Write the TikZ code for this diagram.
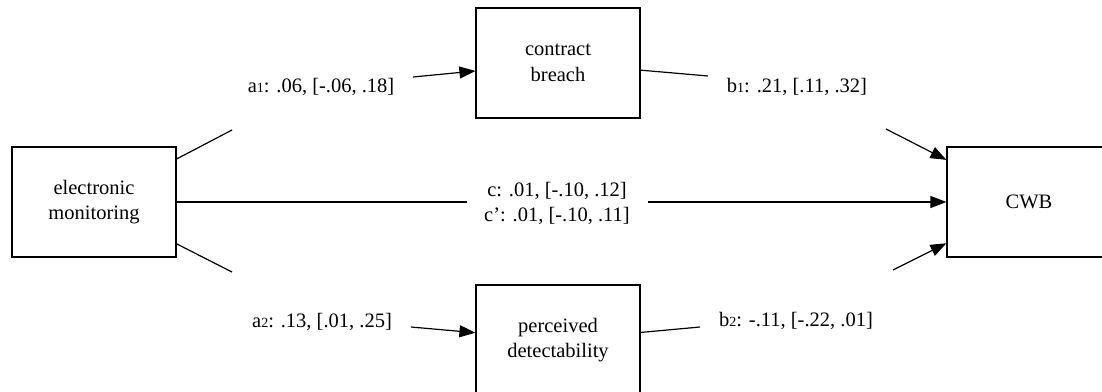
\documentclass[tikz,border=0pt]{standalone}
\usepackage{fontspec}
\setmainfont{Liberation Serif}
\usetikzlibrary{arrows.meta, positioning}
\tikzstyle{box} = [rectangle, minimum width=164pt, minimum height=110pt, align=center, draw=black, line width=1.2pt, font=\fontsize{20.5}{25.5}\selectfont]
\tikzstyle{lbl} = [inner sep=0pt, align=center, font=\fontsize{20.5}{25.5}\selectfont]
\tikzstyle{line} = [line width=1.2pt]
\tikzstyle{arrow} = [line width=1.2pt,-{Triangle[length=16pt,width=12pt]}]
\newcommand{\pathno}[1]{{\fontsize{14}{14}\selectfont #1}}

\begin{document}
\begin{tikzpicture}[x=1pt, y=-1pt]
\useasboundingbox (0,0) rectangle (1102,391);

\node (monitoring) [box] at (94,202) {electronic\\monitoring};
\node (breach) [box] at (558,63) {contract\\breach};
\node (detect) [box] at (558,340) {perceived\\detectability};
\node (cwb) [box] at (1029,202) {CWB};

\node (a1lbl) [lbl, anchor=base] at (321,92) {a\pathno{1}: .06, [-.06, .18]};
\node (b1lbl) [lbl, anchor=base] at (797,92) {b\pathno{1}: .21, [.11, .32]};
\node (a2lbl) [lbl, anchor=base] at (322,327) {a\pathno{2}: .13, [.01, .25]};
\node (b2lbl) [lbl, anchor=base] at (796,326) {b\pathno{2}: -.11, [-.22, .01]};
\node (clbl) [lbl] at (557,203.5) {c: .01, [-.10, .12]\\c’: .01, [-.10, .11]};

% ends of the edge pieces round the labels
\coordinate (a1in) at (232,130);
\coordinate (a1out) at (413,77);
\coordinate (b1in) at (708,76);
\coordinate (b1out) at (886,129);
\coordinate (a2in) at (232,272);
\coordinate (a2out) at (411,327);
\coordinate (b2in) at (700,327);
\coordinate (b2out) at (893,270);
\coordinate (cin) at (467,202);
\coordinate (cout) at (648,202);

\draw [line] (monitoring) -- (a1in);
\draw [arrow] (a1out) -- (breach);
\draw [line] (breach) -- (b1in);
\draw [arrow] (b1out) -- (cwb);
\draw [line] (monitoring) -- (a2in);
\draw [arrow] (a2out) -- (detect);
\draw [line] (detect) -- (b2in);
\draw [arrow] (b2out) -- (cwb);
\draw [line] (monitoring) -- (cin);
\draw [arrow] (cout) -- (cwb);

\end{tikzpicture}
\end{document}
